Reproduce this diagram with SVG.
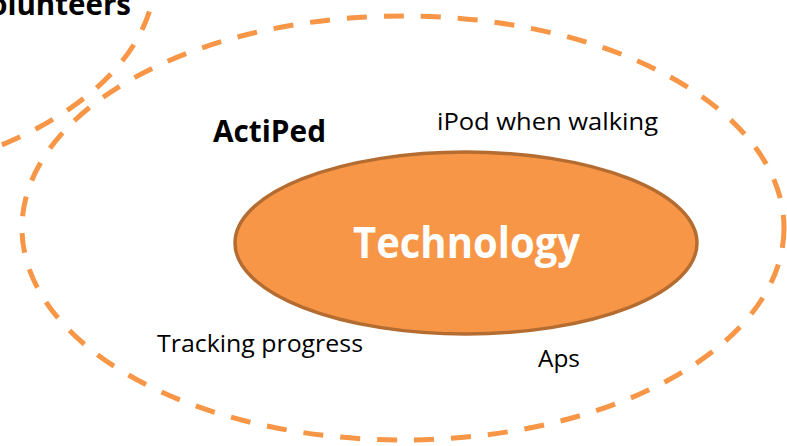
<svg xmlns="http://www.w3.org/2000/svg" width="787" height="446" viewBox="0 0 787 446">
  <style>
    .ring { fill: none; stroke: #F79646; stroke-width: 5; stroke-dasharray: 20 17; }
    .core { fill: #F79646; stroke: #B46C31; stroke-width: 3.5; }
    .lbl { font-family: "Open Sans", "Liberation Sans", sans-serif; fill: #000; }
    .bold { font-weight: bold; }
  </style>
  <rect width="787" height="446" fill="#FFFFFF"/>
  <g id="connectors"></g>
  <g id="volunteers-ring">
    <ellipse class="ring" cx="-226" cy="-25" rx="381" ry="212"/>
    <text class="lbl bold" x="131" y="15" font-size="30" text-anchor="end" textLength="161" lengthAdjust="spacingAndGlyphs">Volunteers</text>
  </g>
  <g id="actiped-ring">
    <ellipse class="ring" cx="403" cy="228" rx="381" ry="212"/>
    <text class="lbl bold" x="213" y="142" font-size="30" textLength="113" lengthAdjust="spacingAndGlyphs">ActiPed</text>
  </g>
  <g id="technology">
    <ellipse class="core" cx="466" cy="243" rx="231" ry="91"/>
    <text class="lbl bold" x="353" y="258" font-size="43" fill="#FFFFFF" style="fill:#FFFFFF" textLength="227" lengthAdjust="spacingAndGlyphs">Technology</text>
  </g>
  <g id="ipod">
    <text class="lbl" x="437" y="130" font-size="24" textLength="221" lengthAdjust="spacingAndGlyphs">iPod when walking</text>
  </g>
  <g id="tracking">
    <text class="lbl" x="157" y="352" font-size="24" textLength="206" lengthAdjust="spacingAndGlyphs">Tracking progress</text>
  </g>
  <g id="aps">
    <text class="lbl" x="538" y="367" font-size="24" textLength="42" lengthAdjust="spacingAndGlyphs">Aps</text>
  </g>
</svg>
